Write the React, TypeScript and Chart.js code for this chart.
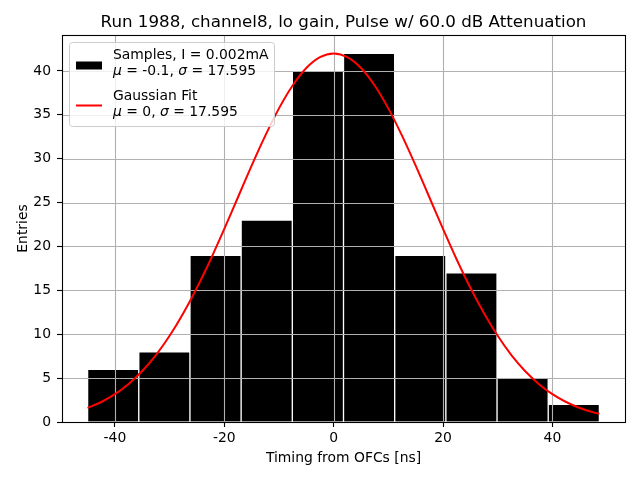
import React, { useEffect, useRef } from "react";
import { Chart, registerables } from "chart.js";

Chart.register(...registerables);

// Histogram bins (centers) and counts
const binCenters = [-40.32, -30.96, -21.6, -12.24, -2.88, 6.48, 15.84, 25.2, 34.56, 43.92];
const binCounts = [6, 8, 19, 23, 40, 42, 19, 17, 5, 2];

// Gaussian fit curve points
const fitX = [
  -45, -42.5, -40, -37.5, -35, -32.5, -30, -27.5, -25, -22.5, -20, -17.5, -15, -12.5, -10, -7.5, -5, -2.5,
  0,
  2.5, 5, 7.5, 10, 12.5, 15, 17.5, 20, 22.5, 25, 27.5, 30, 32.5, 35, 37.5, 40, 42.5, 45, 47.5, 48.6,
];
const fitY = [
  1.6, 2.28, 3.17, 4.34, 5.81, 7.62, 9.82, 12.39, 15.3, 18.52, 22.0, 25.61, 29.21, 32.63, 35.74, 38.35, 40.34, 41.58,
  42,
  41.58, 40.34, 38.35, 35.74, 32.63, 29.21, 25.61, 22.0, 18.52, 15.3, 12.39, 9.82, 7.62, 5.81, 4.34, 3.17, 2.28, 1.6, 1.1, 0.93,
];

const xTicks = [-40, -20, 0, 20, 40];
const yTicks = [0, 5, 10, 15, 20, 25, 30, 35, 40];

const titleText = "Run 1988, channel8, lo gain, Pulse w/ 60.0 dB Attenuation";
const xLabel = "Timing from OFCs [ns]";
const yLabel = "Entries";
const legendSamples = "Samples, I = 0.002mA";
const legendSamplesStats = { mu: "-0.1", sigma: "17.595" };
const legendFit = "Gaussian Fit";
const legendFitStats = { mu: "0", sigma: "17.595" };

const FONT = "'DejaVu Sans', sans-serif";
const FS = 13.9;

function drawStats(ctx: CanvasRenderingContext2D, x: number, y: number, mu: string, sigma: string) {
  const segs: [string, boolean][] = [
    ["\u03bc", true],
    [" = " + mu + ", ", false],
    ["\u03c3", true],
    [" = " + sigma, false],
  ];
  let cx = x;
  for (const [t, it] of segs) {
    ctx.font = (it ? "oblique " : "") + FS + "px " + FONT;
    ctx.fillText(t, cx, y);
    cx += ctx.measureText(t).width;
  }
}

const customPlugin = {
  id: "mplCustom",
  afterDatasetDraw(chart: any, args: any) {
    if (args.index !== 1) return; // after bars: draw grid on top of bars
    const { ctx, chartArea } = chart;
    const xs = chart.scales.x;
    const ys = chart.scales.y;
    ctx.save();
    ctx.beginPath();
    ctx.rect(chartArea.left, chartArea.top, chartArea.right - chartArea.left, chartArea.bottom - chartArea.top);
    ctx.clip();
    ctx.strokeStyle = "#b0b0b0";
    ctx.lineWidth = 1.1;
    for (const v of xTicks) {
      const px = Math.round(xs.getPixelForValue(v)) + 0.5;
      ctx.beginPath();
      ctx.moveTo(px, chartArea.top);
      ctx.lineTo(px, chartArea.bottom);
      ctx.stroke();
    }
    for (const v of yTicks) {
      const py = Math.round(ys.getPixelForValue(v)) + 0.5;
      ctx.beginPath();
      ctx.moveTo(chartArea.left, py);
      ctx.lineTo(chartArea.right, py);
      ctx.stroke();
    }
    ctx.restore();
  },
  afterDatasetsDraw(chart: any) {
    const { ctx, chartArea } = chart;
    ctx.save();
    // spines
    ctx.strokeStyle = "#000";
    ctx.lineWidth = 1.1;
    ctx.strokeRect(chartArea.left + 0.5, chartArea.top + 0.5, chartArea.right - chartArea.left, chartArea.bottom - chartArea.top);

    // legend
    const lx = 69.5, ly = 42.5, lw = 205, lh = 84, r = 3;
    ctx.beginPath();
    ctx.moveTo(lx + r, ly);
    ctx.lineTo(lx + lw - r, ly);
    ctx.arcTo(lx + lw, ly, lx + lw, ly + r, r);
    ctx.lineTo(lx + lw, ly + lh - r);
    ctx.arcTo(lx + lw, ly + lh, lx + lw - r, ly + lh, r);
    ctx.lineTo(lx + r, ly + lh);
    ctx.arcTo(lx, ly + lh, lx, ly + lh - r, r);
    ctx.lineTo(lx, ly + r);
    ctx.arcTo(lx, ly, lx + r, ly, r);
    ctx.closePath();
    ctx.fillStyle = "rgba(255,255,255,0.8)";
    ctx.fill();
    ctx.strokeStyle = "#cccccc";
    ctx.lineWidth = 1;
    ctx.stroke();

    ctx.fillStyle = "#000";
    ctx.fillRect(76, 61.5, 26, 8);
    ctx.strokeStyle = "red";
    ctx.lineWidth = 2;
    ctx.beginPath();
    ctx.moveTo(76, 105.5);
    ctx.lineTo(102, 105.5);
    ctx.stroke();

    ctx.fillStyle = "#000";
    ctx.textBaseline = "alphabetic";
    ctx.textAlign = "left";
    ctx.font = FS + "px " + FONT;
    ctx.fillText(legendSamples, 113, 59);
    drawStats(ctx, 113, 74.5, legendSamplesStats.mu, legendSamplesStats.sigma);
    ctx.font = FS + "px " + FONT;
    ctx.fillText(legendFit, 113, 99.5);
    drawStats(ctx, 113, 115.5, legendFitStats.mu, legendFitStats.sigma);

    // title & axis labels
    const cx = (chartArea.left + chartArea.right) / 2;
    ctx.textAlign = "center";
    ctx.font = "16.7px " + FONT;
    ctx.fillText(titleText, cx, 27);
    ctx.font = FS + "px " + FONT;
    ctx.fillText(xLabel, cx, 462);
    ctx.save();
    ctx.translate(27, (chartArea.top + chartArea.bottom) / 2);
    ctx.rotate(-Math.PI / 2);
    ctx.fillText(yLabel, 0, 0);
    ctx.restore();
    ctx.restore();
  },
};

export default function App() {
  const ref = useRef<HTMLCanvasElement | null>(null);
  useEffect(() => {
    if (!ref.current) return;
    const tickFont = { family: FONT, size: FS };
    const chart = new Chart(ref.current, {
      type: "bar",
      data: {
        datasets: [
          {
            type: "line",
            label: legendFit,
            data: fitX.map((x, i) => ({ x, y: fitY[i] })),
            borderColor: "red",
            borderWidth: 2,
            pointRadius: 0,
            tension: 0.3,
            fill: false,
            order: 0,
          } as any,
          {
            type: "bar",
            label: legendSamples,
            data: binCenters.map((x, i) => ({ x, y: binCounts[i] })),
            backgroundColor: "#000",
            borderColor: "#fff",
            borderWidth: 1,
            barPercentage: 1,
            categoryPercentage: 1,
            grouped: false,
            order: 1,
          } as any,
        ],
      },
      options: {
        animation: false,
        responsive: false,
        devicePixelRatio: 1,
        layout: { padding: { left: 0, top: 35, right: 15, bottom: 0 } },
        plugins: { legend: { display: false }, tooltip: { enabled: false }, title: { display: false } },
        scales: {
          x: {
            type: "linear",
            min: -49.68,
            max: 53.28,
            offset: false,
            afterBuildTicks: (s: any) => {
              s.ticks = xTicks.map((v) => ({ value: v }));
            },
            afterFit: (s: any) => {
              s.height = 58;
            },
            grid: { offset: false, drawOnChartArea: false, drawTicks: true, tickLength: 5, tickColor: "#000", tickWidth: 1.1 },
            border: { display: false },
            ticks: { color: "#000", font: tickFont, padding: 3, maxRotation: 0, autoSkip: false },
          },
          y: {
            type: "linear",
            min: 0,
            max: 44.1,
            afterBuildTicks: (s: any) => {
              s.ticks = yTicks.map((v) => ({ value: v }));
            },
            afterFit: (s: any) => {
              s.width = 62;
            },
            grid: { offset: false, drawOnChartArea: false, drawTicks: true, tickLength: 5, tickColor: "#000", tickWidth: 1.1 },
            border: { display: false },
            ticks: { color: "#000", font: tickFont, padding: 6, autoSkip: false },
          },
        },
      } as any,
      plugins: [customPlugin],
    });
    return () => chart.destroy();
  }, []);
  return (
    <div style={{ position: "absolute", left: 0, top: 0, width: 640, height: 480, background: "#fff" }}>
      <canvas ref={ref} width={640} height={480} style={{ width: 640, height: 480 }} />
    </div>
  );
}
